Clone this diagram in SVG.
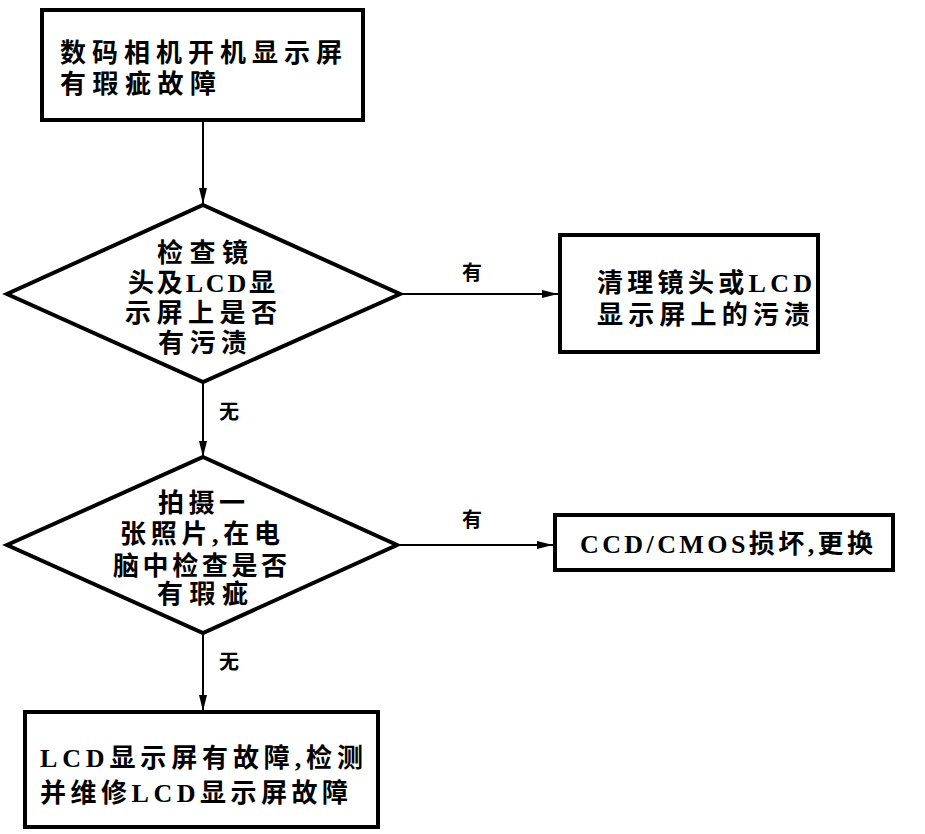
<svg xmlns="http://www.w3.org/2000/svg" width="925" height="834" viewBox="0 0 925 834">
<defs>
<marker id="ah" viewBox="0 0 16 8" refX="16" refY="4" markerWidth="16" markerHeight="8" markerUnits="userSpaceOnUse" orient="auto">
<path d="M0,0 L16,4 L0,8 Z" fill="#000"/>
</marker>
<style>
.box{fill:#fff;stroke:#000;stroke-width:4}
.dia{fill:#fff;stroke:#000;stroke-width:4;stroke-linejoin:miter}
.con{fill:none;stroke:#000;stroke-width:2;marker-end:url(#ah)}
.t{font-family:"Liberation Serif","Noto Sans CJK SC",serif;font-size:26px;font-weight:bold;fill:#000}
.lb{font-family:"Liberation Serif","Noto Sans CJK SC",serif;font-size:20px;font-weight:bold;fill:#000}
</style>
</defs>
<rect width="925" height="834" fill="#fff"/>
<g id="connectors">
<line class="con" x1="203" y1="122" x2="203" y2="204"/>
<line class="con" x1="400" y1="294" x2="558" y2="294"/>
<line class="con" x1="203" y1="382" x2="203" y2="457"/>
<line class="con" x1="397" y1="545" x2="553" y2="545"/>
<line class="con" x1="203" y1="633" x2="203" y2="711"/>
<text class="lb" x="462" y="280">有</text>
<text class="lb" x="462" y="527">有</text>
<text class="lb" x="219" y="419">无</text>
<text class="lb" x="219" y="669">无</text>
</g>
<g id="start">
<rect class="box" x="42" y="10" width="321" height="110"/>
<text class="t" x="60" y="62" textLength="282" lengthAdjust="spacing">数码相机开机显示屏</text>
<text class="t" x="60" y="93" textLength="156" lengthAdjust="spacing">有瑕疵故障</text>
</g>
<g id="check1">
<polygon class="dia" points="203,205 400,294 203,382 7,294"/>
<text class="t" x="157" y="262" textLength="91" lengthAdjust="spacing">检查镜</text>
<text class="t" x="128" y="292" textLength="147" lengthAdjust="spacing">头及LCD显</text>
<text class="t" x="125" y="322" textLength="152" lengthAdjust="spacing">示屏上是否</text>
<text class="t" x="158" y="352" textLength="89" lengthAdjust="spacing">有污渍</text>
</g>
<g id="clean">
<rect class="box" x="560" y="235" width="258" height="117"/>
<text class="t" x="597" y="292" textLength="215" lengthAdjust="spacing">清理镜头或LCD</text>
<text class="t" x="597" y="324" textLength="213" lengthAdjust="spacing">显示屏上的污渍</text>
</g>
<g id="check2">
<polygon class="dia" points="203,457 397,545 203,633 7,545"/>
<text class="t" x="158" y="512" textLength="87" lengthAdjust="spacing">拍摄一</text>
<text class="t" x="120" y="543" textLength="160" lengthAdjust="spacing">张照片,在电</text>
<text class="t" x="113" y="575" textLength="174" lengthAdjust="spacing">脑中检查是否</text>
<text class="t" x="157" y="603" textLength="91" lengthAdjust="spacing">有瑕疵</text>
</g>
<g id="replace">
<rect class="box" x="555" y="515" width="338" height="55"/>
<text class="t" x="580" y="553" textLength="293" lengthAdjust="spacing">CCD/CMOS损坏,更换</text>
</g>
<g id="repair">
<rect class="box" x="25" y="712" width="353" height="115"/>
<text class="t" x="40" y="767" textLength="323" lengthAdjust="spacing">LCD显示屏有故障,检测</text>
<text class="t" x="40" y="802" textLength="308" lengthAdjust="spacing">并维修LCD显示屏故障</text>
</g>
</svg>
